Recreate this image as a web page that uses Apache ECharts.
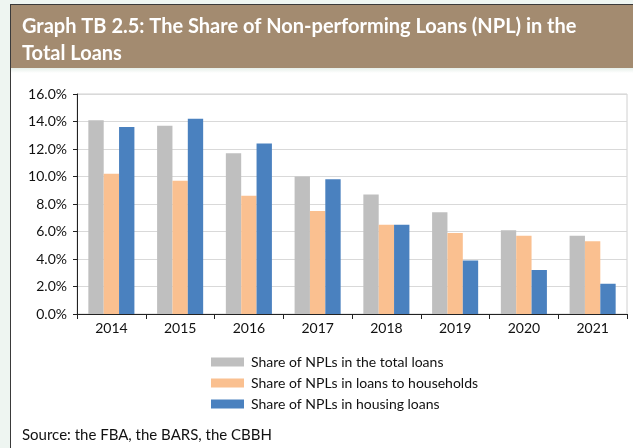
<!DOCTYPE html>
<html>
<head>
<meta charset="utf-8">
<script src="https://cdn.jsdelivr.net/npm/echarts@6/dist/echarts.min.js"></script>
<style>
  html, body { margin: 0; padding: 0; background: #fff; }
  #chart { width: 633px; height: 448px; }
</style>
</head>
<body>
<div id="chart"></div>
<script>
var years = ['2014', '2015', '2016', '2017', '2018', '2019', '2020', '2021'];
var totalLoans = [14.1, 13.7, 11.7, 10.0, 8.7, 7.4, 6.1, 5.7];
var householdLoans = [10.2, 9.7, 8.6, 7.5, 6.5, 5.9, 5.7, 5.3];
var housingLoans = [13.6, 14.2, 12.4, 9.8, 6.5, 3.9, 3.2, 2.2];
var seriesNames = [
  'Share of NPLs in the total loans',
  'Share of NPLs in loans to households',
  'Share of NPLs in housing loans'
];
var colors = ['#bfbfbf', '#fac090', '#4a81bf'];

var font = 'Lato, "Noto Sans", sans-serif';

function bar(name, data) {
  return {
    name: name,
    type: 'bar',
    data: data,
    barGap: '0%',
    barCategoryGap: '33%'
  };
}

echarts.init(document.getElementById('chart'), null, { renderer: 'canvas' }).setOption({
  animation: false,
  color: colors,
  textStyle: { fontFamily: font },
  graphic: [
    // pale strip on the left edge
    { type: 'rect', left: 0, top: 0, shape: { width: 10, height: 448 }, style: { fill: '#eef5f1' }, z: -10 },
    { type: 'rect', left: 0, top: 0, shape: { width: 633, height: 4 }, style: { fill: '#eef5f1' }, z: -10 },
    // header band
    { type: 'rect', left: 11, top: 5, shape: { width: 622, height: 63 }, style: { fill: '#a38b70' }, z: -5 },
    { type: 'rect', left: 11, top: 68, shape: { width: 622, height: 5 },
      style: { fill: new echarts.graphic.LinearGradient(0, 0, 0, 1, [
        { offset: 0, color: '#e6efe9' }, { offset: 1, color: '#ffffff' }
      ]) }, z: -5 },
    // dark frame lines
    { type: 'rect', left: 10, top: 4, shape: { width: 1, height: 444 }, style: { fill: '#3a3a3a' }, z: -4 },
    { type: 'rect', left: 10, top: 4, shape: { width: 623, height: 1 }, style: { fill: '#3a3a3a' }, z: -4 },
    // source line
    { type: 'text', left: 22, top: 428,
      style: { text: 'Source: the FBA, the BARS, the CBBH', fill: '#111', font: '15px ' + font } }
  ],
  title: {
    text: 'Graph TB 2.5: The Share of Non-performing Loans (NPL) in the\nTotal Loans',
    left: 17,
    top: 8,
    textStyle: {
      color: '#ffffff',
      fontSize: 20,
      fontWeight: 'bold',
      lineHeight: 27,
      fontFamily: font
    }
  },
  legend: {
    orient: 'vertical',
    left: 211,
    top: 354,
    padding: 0,
    itemWidth: 33,
    itemHeight: 9,
    itemGap: 5,
    icon: 'rect',
    data: seriesNames,
    textStyle: { fontSize: 14, lineHeight: 16, color: '#111', fontFamily: font, padding: [0, 0, 0, 2] }
  },
  grid: {
    left: 77,
    right: 6,
    top: 94,
    bottom: 134,
    show: true,
    borderColor: '#d0d0d0',
    borderWidth: 1
  },
  xAxis: {
    type: 'category',
    data: years,
    axisLine: { lineStyle: { color: '#222', width: 1 } },
    axisTick: { show: true, length: 5, lineStyle: { color: '#222' } },
    axisLabel: { color: '#111', fontSize: 14, margin: 7 }
  },
  yAxis: {
    type: 'value',
    min: 0,
    max: 16,
    interval: 2,
    axisLine: { show: true, lineStyle: { color: '#222', width: 1 } },
    axisTick: { show: true, length: 4, lineStyle: { color: '#222' } },
    splitLine: { lineStyle: { color: '#d9d9d9', width: 1 } },
    axisLabel: {
      color: '#111',
      fontSize: 14,
      margin: 10,
      formatter: function (v) {
        return v.toFixed(1) + '%';
      }
    }
  },
  series: [
    bar(seriesNames[0], totalLoans),
    bar(seriesNames[1], householdLoans),
    bar(seriesNames[2], housingLoans)
  ]
});
</script>
</body>
</html>
